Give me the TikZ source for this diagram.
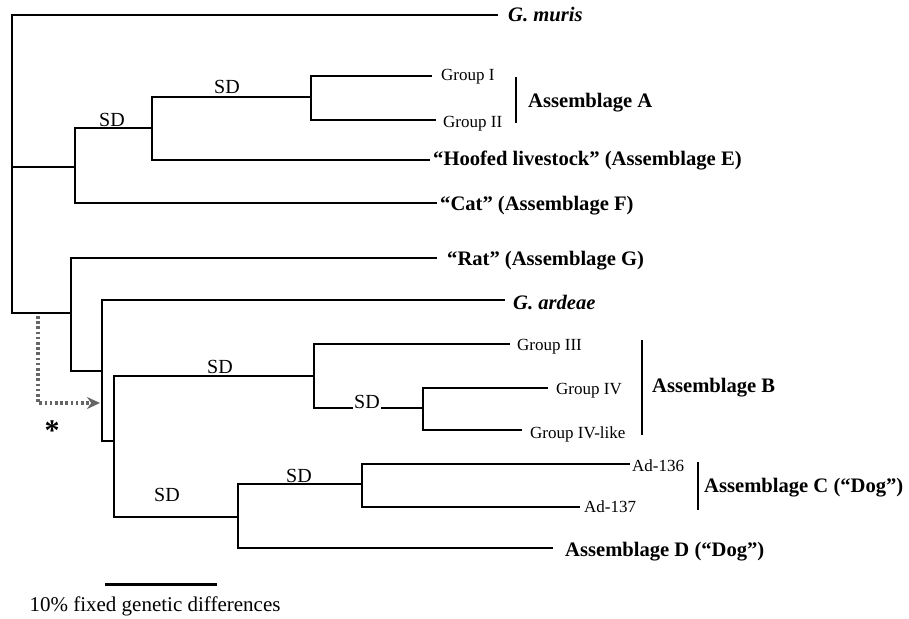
\documentclass[tikz,border=0pt]{standalone}
\usepackage{fontspec}
\setmainfont{Liberation Serif}
\usetikzlibrary{arrows.meta}
\begin{document}
\begin{tikzpicture}[x=1pt,y=-1pt,
  branch/.style={line width=1.3pt, black, line join=miter},
  leaf/.style={anchor=base west, inner sep=0pt, font=\fontsize{17}{19}\selectfont},
  taxon/.style={anchor=base west, inner sep=0pt, font=\fontsize{20.6}{24}\selectfont\bfseries},
  sdlab/.style={anchor=base, inner sep=1pt, font=\fontsize{20}{22}\selectfont},
  groupbar/.style={line width=1.3pt, black},
  arrowpath/.style={black!60, line width=3.2pt, dash pattern=on 2.6pt off 2.6pt,
    -{Stealth[length=13pt,width=12pt]}}
]
\useasboundingbox (0,0) rectangle (909,618);

% internal branch points (x = node depth, y = stem height)
\coordinate (root) at (12,167);
\coordinate (n1)   at (75,167);
\coordinate (n1a)  at (152,128);
\coordinate (nA)   at (311,97);
\coordinate (n2)   at (71,313);
\coordinate (n3)   at (102,371);
\coordinate (n4)   at (114,441);
\coordinate (nB)   at (314,376);
\coordinate (nB2)  at (423,408);
\coordinate (nCD)  at (238,517);
\coordinate (nC)   at (362,484);

% branch tips
\coordinate (tMuris) at (498,15);
\coordinate (tGI)    at (432,76);
\coordinate (tGII)   at (436,120);
\coordinate (tE)     at (430,160);
\coordinate (tF)     at (437,203);
\coordinate (tG)     at (437,258);
\coordinate (tArd)   at (505,300);
\coordinate (tGIII)  at (510,344);
\coordinate (tGIV)   at (548,388);
\coordinate (tGIVl)  at (522,430);
\coordinate (t136)   at (630,464);
\coordinate (t137)   at (580,507);
\coordinate (tD)     at (553,548);

% tree
\draw[branch] (root) |- (tMuris);
\draw[branch] (root) |- (n1);
\draw[branch] (root) |- (n2);
\draw[branch] (n1) |- (n1a);
\draw[branch] (n1) |- (tF);
\draw[branch] (n1a) |- (nA);
\draw[branch] (n1a) |- (tE);
\draw[branch] (nA) |- (tGI);
\draw[branch] (nA) |- (tGII);
\draw[branch] (n2) |- (tG);
\draw[branch] (n2) |- (n3);
\draw[branch] (n3) |- (tArd);
\draw[branch] (n3) |- (n4);
\draw[branch] (n4) |- (nB);
\draw[branch] (n4) |- (nCD);
\draw[branch] (nB) |- (tGIII);
\draw[branch] (nB) |- (nB2);
\draw[branch] (nB2) |- (tGIV);
\draw[branch] (nB2) |- (tGIVl);
\draw[branch] (nCD) |- (nC);
\draw[branch] (nCD) |- (tD);
\draw[branch] (nC) |- (t136);
\draw[branch] (nC) |- (t137);

% taxon labels
\node[taxon] (lMuris) at (508,22) {\itshape G. muris};
\node[leaf]  (lGI)    at (441,81) {Group I};
\node[leaf]  (lGII)   at (443,127) {Group II};
\node[taxon] (lE)     at (433,165) {“Hoofed livestock” (Assemblage E)};
\node[taxon] (lF)     at (440,210) {“Cat” (Assemblage F)};
\node[taxon] (lG)     at (447,265) {“Rat” (Assemblage G)};
\node[taxon] (lArd)   at (513,309) {\itshape G. ardeae};
\node[leaf]  (lGIII)  at (517,350) {Group III};
\node[leaf]  (lGIV)   at (556,394) {Group IV};
\node[leaf]  (lGIVl)  at (530,438) {Group IV-like};
\node[leaf]  (l136)   at (632,471) {Ad-136};
\node[leaf]  (l137)   at (584,512) {Ad-137};
\node[taxon] (lD)     at (565,556) {Assemblage D (“Dog”)};

% assemblage brackets
\coordinate (barAt) at (516,77);  \coordinate (barAb) at (516,123);
\coordinate (barBt) at (642,340); \coordinate (barBb) at (642,435);
\coordinate (barCt) at (698,462); \coordinate (barCb) at (698,510);
\draw[groupbar] (barAt) -- (barAb);
\draw[groupbar] (barBt) -- (barBb);
\draw[groupbar] (barCt) -- (barCb);
\node[taxon] (lA) at (528,107) {Assemblage A};
\node[taxon] (lB) at (652,392) {Assemblage B};
\node[taxon] (lC) at (704,492) {Assemblage C (“Dog”)};

% SD support labels
\node[sdlab] (sd1) at (112,126) {SD};
\node[sdlab] (sd2) at (227,93) {SD};
\node[sdlab] (sd3) at (220,373) {SD};
\node[sdlab, fill=white] (sd4) at (367,408) {SD};
\node[sdlab] (sd5) at (167,501) {SD};
\node[sdlab] (sd6) at (299,482) {SD};

% dotted arrow and asterisk
\coordinate (ds) at (38,316);
\coordinate (de) at (100,403);
\draw[arrowpath] (ds) |- (de);
\node[anchor=base, inner sep=0pt, font=\fontsize{30}{32}\selectfont\bfseries] (star) at (52,440) {*};

% scale bar
\coordinate (sbL) at (105,584);
\coordinate (sbR) at (217,584);
\draw[line width=3pt] (sbL) -- (sbR);
\node[anchor=base, inner sep=0pt, font=\fontsize{21}{24}\selectfont] (sbtext) at (155,611) {10\% fixed genetic differences};
\end{tikzpicture}
\end{document}
